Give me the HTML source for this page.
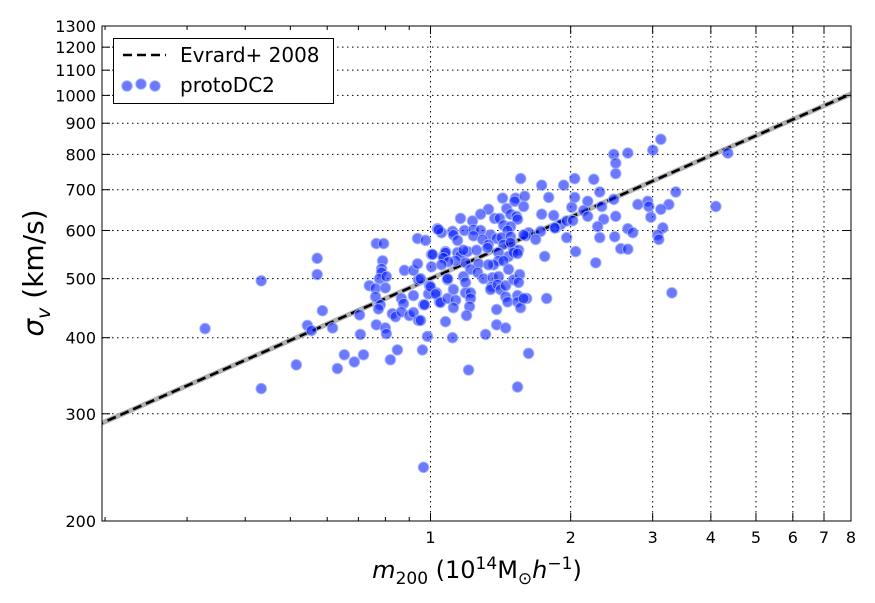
<!DOCTYPE html>
<html><head><meta charset="utf-8"><style>
body{margin:0;background:#fff}
svg{display:block;font-family:"DejaVu Sans","Liberation Sans",sans-serif}
</style></head><body>
<svg id="chart" width="875" height="603" viewBox="0 0 875 603"></svg>
<script>
const xTicks=[1,2,3,4,5,6,7,8];
const xTickLabels=["1","2","3","4","5","6","7","8"];
const yTicks=[200,300,400,500,600,700,800,900,1000,1100,1200,1300];
const yTickLabels=["200","300","400","500","600","700","800","900","1000","1100","1200","1300"];
const xMinorTicks=[0.2,0.3,0.4,0.5,0.6,0.7,0.8,0.9];
const evrardParams=[500,0.336];
const mass=[0.328,0.433,0.433,0.515,0.544,0.555,0.571,0.571,0.586,0.616,0.631,0.653,0.686,0.704,0.707,0.718,0.739,0.765,0.793,0.789,0.785,0.785,0.777,0.804,0.762,0.80,0.762,0.78,0.773,0.765,0.80,0.804,0.849,0.82,0.828,0.841,0.866,0.875,0.866,0.901,0.919,0.942,0.952,0.919,0.879,0.919,0.938,0.942,0.966,0.961,0.985,0.938,0.976,1.005,1.005,0.995,0.99,1.03,1.045,1.077,1.035,1.056,1.066,1.077,1.088,0.966,
1.428,1.523,1.593,1.516,1.794,1.585,1.457,1.332,1.281,1.486,1.53,1.538,1.373,1.407,1.733,1.839,1.904,1.961,1.16,1.231,1.435,1.486,1.464,1.04,1.115,1.183,1.237,1.281,1.346,1.387,1.42,1.486,1.625,1.601,1.724,1.682,1.857,1.961,1.12,1.143,1.237,1.294,1.332,1.435,1.508,1.546,1.486,1.077,1.066,1.01,1.143,1.16,1.2,1.177,1.256,1.326,1.4,1.471,1.508,1.538,1.4,1.366,1.435,1.268,1.332,1.189,1.132,1.093,1.056,1.219,1.262,1.471,1.759,0.952,1.0,1.025,1.05,1.088,1.088,1.12,1.132,1.12,1.177,1.189,1.189,1.219,1.219,1.213,1.195,1.3,1.359,1.352,1.346,1.4,1.393,1.414,1.45,1.45,1.464,1.508,1.554,1.546,1.538,1.538,1.561,1.609,1.387,1.387,1.45,1.313,1.115,0.971,1.207,1.624,1.776,1.538,
3.124,3.002,2.475,2.653,2.499,2.499,2.04,2.242,1.932,1.733,1.562,2.309,3.364,4.352,2.04,2.176,2.475,2.928,2.788,2.944,3.25,3.124,4.101,2.011,2.332,2.133,2.176,2.499,2.973,2.021,2.355,1.848,2.286,2.653,2.719,3.155,3.077,3.093,2.309,2.487,1.585,2.562,2.653,2.05,2.264,3.299,1.585];
const sigma=[414,496,330,361,419,411,540,508,443,415,356,375,365,436,405,375,487,571,571,535,519,512,500,504,482,483,467,453,446,420,415,406,382,368,438,433,464,455,441,435,440,427,427,469,516,516,529,498,453,382,402,582,578,548,523,487,472,474,458,425,604,595,544,554,498,245,
678,678,683,670,680,657,652,650,638,638,633,626,628,628,638,635,614,622,628,622,612,609,600,602,598,600,602,600,590,582,584,586,595,588,598,580,606,584,590,578,588,580,569,569,559,557,573,552,541,548,552,546,554,557,557,562,552,544,552,550,535,527,535,529,527,531,535,533,527,518,512,518,544,500,485,472,457,464,500,480,461,448,504,493,474,474,464,450,435,500,502,485,480,504,489,480,487,467,458,498,508,493,469,458,448,464,445,420,415,405,400,453,354,377,464,332,
847,813,800,804,774,744,730,728,712,712,730,694,694,804,680,670,675,670,662,657,662,650,657,655,657,647,633,633,631,623,626,606,609,604,595,606,590,580,584,586,590,560,559,554,531,474,464];

const NS="http://www.w3.org/2000/svg";
const svg=document.getElementById('chart');
const L=102,R=851,T=26,B=521;
const X0=Math.log10(0.197),X1=Math.log10(8.0);
const Y0=Math.log10(200),Y1=Math.log10(1300);
function xs(v){return L+(Math.log10(v)-X0)/(X1-X0)*(R-L);}
function ys(v){return B-(Math.log10(v)-Y0)/(Y1-Y0)*(B-T);}
function mk(tag,attrs,parent){const e=document.createElementNS(NS,tag);for(const k in attrs)e.setAttribute(k,attrs[k]);(parent||svg).appendChild(e);return e;}

const clip=mk('clipPath',{id:'pc'});mk('rect',{x:L,y:T,width:R-L,height:B-T},clip);

// grid
const grid=mk('g',{});


xTicks.forEach(v=>{const x=xs(v);const g=mk('line',{x1:x,x2:x,y1:T,y2:B,stroke:'#000','stroke-width':1,'stroke-dasharray':'1.5,3.5'},grid);});
yTicks.forEach(v=>{const y=ys(v);const g=mk('line',{x1:L,x2:R,y1:y,y2:y,stroke:'#000','stroke-width':1,'stroke-dasharray':'1.5,3.5'},grid);});

// evrard line
const ex=[0.19,8.2];
const lg=mk('g',{'clip-path':'url(#pc)'});


const pts=ex.map(m=>xs(m)+','+ys(evrardParams[0]*Math.pow(m,evrardParams[1]))).join(' ');
mk('polyline',{points:pts,fill:'none',stroke:'#b0b0b0','stroke-width':5},lg);
mk('polyline',{points:pts,fill:'none',stroke:'#000','stroke-width':2.6,'stroke-dasharray':'9,5'},lg);

// points
const pg=mk('g',{'clip-path':'url(#pc)'});


for(let i=0;i<mass.length;i++){
  const c=mk('circle',{cx:xs(mass[i]),cy:ys(sigma[i]),r:5.3,fill:'rgba(10,30,255,0.6)',stroke:'rgba(160,180,255,0.85)','stroke-width':1},pg);
  
  
}

// frame
const fr=mk('rect',{x:L,y:T,width:R-L,height:B-T,fill:'none',stroke:'#000','stroke-width':1});



// ticks
const tg=mk('g',{stroke:'#000','stroke-width':1});


xTicks.forEach(v=>{const x=xs(v);mk('line',{x1:x,x2:x,y1:B,y2:B-8},tg);mk('line',{x1:x,x2:x,y1:T,y2:T+8},tg);});
xMinorTicks.forEach(v=>{const x=xs(v);mk('line',{x1:x,x2:x,y1:B,y2:B-4},tg);mk('line',{x1:x,x2:x,y1:T,y2:T+4},tg);});
yTicks.forEach(v=>{const y=ys(v);mk('line',{x1:L,x2:L+8,y1:y,y2:y},tg);mk('line',{x1:R,x2:R-8,y1:y,y2:y},tg);});

xTicks.forEach((v,i)=>{const t=mk('text',{x:xs(v),y:B+22,'text-anchor':'middle','font-size':16});t.textContent=xTickLabels[i];});
yTicks.forEach((v,i)=>{const t=mk('text',{x:L-6,y:ys(v)+6,'text-anchor':'end','font-size':16});t.textContent=yTickLabels[i];});
</script>
<svg style="position:absolute;left:0;top:0" width="875" height="603">
  <text x="477" y="578" text-anchor="middle" font-size="24" font-family="DejaVu Sans, sans-serif"><tspan font-style="italic">m</tspan><tspan font-size="17" dy="6">200</tspan><tspan dy="-6"> (10</tspan><tspan font-size="17" dy="-9">14</tspan><tspan dy="9">M</tspan><tspan font-size="17" dy="6">⊙</tspan><tspan dy="-6" font-style="italic">h</tspan><tspan font-size="17" dy="-9">−1</tspan><tspan dy="9">)</tspan></text>
  <text transform="translate(43,273) rotate(-90)" text-anchor="middle" font-size="28" font-family="DejaVu Sans, sans-serif"><tspan font-style="italic">σ</tspan><tspan font-size="19" font-style="italic" dy="7">v</tspan><tspan dy="-7"> (km/s)</tspan></text>
  <g>
    <rect x="113.5" y="38.5" width="220" height="65" fill="#fff" stroke="#000" stroke-width="1"/>
    <line x1="123" x2="166" y1="55" y2="55" stroke="#000" stroke-width="2.6" stroke-dasharray="9,5"/>
    <text x="180" y="62" font-size="20" font-family="DejaVu Sans, sans-serif">Evrard+ 2008</text>
    <circle cx="127" cy="86" r="5.3" fill="rgba(10,30,255,0.6)" stroke="rgba(160,180,255,0.85)"/>
    <circle cx="141" cy="84" r="5.3" fill="rgba(10,30,255,0.6)" stroke="rgba(160,180,255,0.85)"/>
    <circle cx="155" cy="86" r="5.3" fill="rgba(10,30,255,0.6)" stroke="rgba(160,180,255,0.85)"/>
    <text x="180" y="92" font-size="20" font-family="DejaVu Sans, sans-serif">protoDC2</text>
  </g>
</svg>
</body></html>
